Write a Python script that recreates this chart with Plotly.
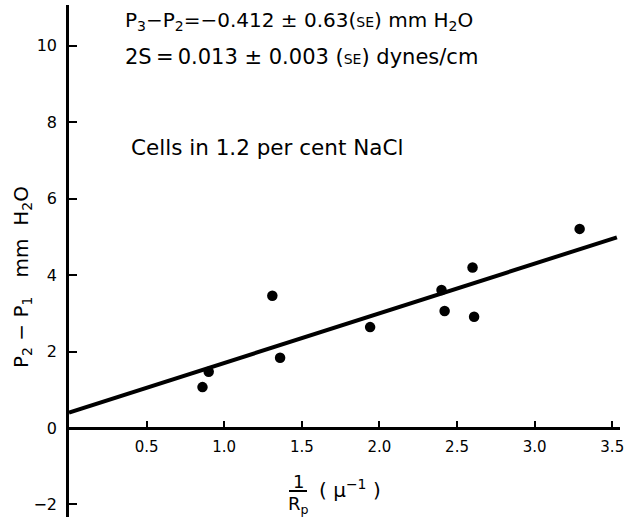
import plotly.graph_objects as go

# data
inv_rp = [0.86, 0.90, 1.31, 1.36, 1.94, 2.40, 2.42, 2.60, 2.61, 3.29]
dp = [1.07, 1.47, 3.46, 1.84, 2.64, 3.61, 3.06, 4.20, 2.91, 5.21]
fit_x = [0.0, 3.53]
fit_y = [0.40, 4.99]
x_ticks = [0.5, 1.0, 1.5, 2.0, 2.5, 3.0, 3.5]
x_tick_text = ["0.5", "1.0", "1.5", "2.0", "2.5", "3.0", "3.5"]
y_ticks = [-2, 0, 2, 4, 6, 8, 10]
y_tick_text = ["−2", "0", "2", "4", "6", "8", "10"]
x_range = [0, 3.55]
y_range = [-2.33, 11.07]

FONT = "DejaVu Sans"
W, H = 629, 524
ML, MR, MT, MB = 69, 9, 5, 7
PW, PH = W - ML - MR, H - MT - MB


def px(x):
    return (x - ML) / PW


def py(y):
    return (H - MB - y) / PH


fig = go.Figure()
fig.add_trace(go.Scatter(x=fit_x, y=fit_y, mode="lines",
                         line=dict(color="black", width=4), showlegend=False))
fig.add_trace(go.Scatter(x=inv_rp, y=dp, mode="markers",
                         marker=dict(color="black", size=10.5), showlegend=False))

xpos = (0 - y_range[0]) / (y_range[1] - y_range[0])

fig.update_layout(
    width=W, height=H,
    margin=dict(l=ML, r=MR, t=MT, b=MB),
    paper_bgcolor="white", plot_bgcolor="white",
    font=dict(family=FONT, color="black"),
    xaxis=dict(range=x_range, tickvals=x_ticks, ticktext=x_tick_text,
               anchor="free", position=xpos, showline=True, linewidth=2.5,
               linecolor="black", ticks="inside", ticklen=6, tickwidth=2,
               tickcolor="black", showgrid=False, zeroline=False,
               tickfont=dict(size=15, family=FONT), ticklabelstandoff=4,
               ticklabeloverflow="allow", automargin=False),
    yaxis=dict(range=y_range, tickvals=y_ticks, ticktext=y_tick_text,
               showline=True, linewidth=2.5, linecolor="black",
               ticks="inside", ticklen=8, tickwidth=2, tickcolor="black",
               showgrid=False, zeroline=False,
               tickfont=dict(size=16, family=FONT), ticklabelstandoff=6,
               automargin=False),
)

se = "<span style='font-size:14px'>SE</span>"
anns = [
    dict(text="P<sub>3</sub>−P<sub>2</sub>=−0.412 ± 0.63(" + se + ") mm H<sub>2</sub>O",
         x=px(123), y=py(21), xanchor="left", size=20),
    dict(text="2S\u2009=\u20090.013 ± 0.003 (" + se + ") dynes/cm",
         x=px(123), y=py(57), xanchor="left", size=21),
    dict(text="Cells in 1.2 per cent NaCl",
         x=px(129), y=py(147), xanchor="left", size=21.5),
    dict(text="1", x=px(298), y=py(481), xanchor="center", size=18),
    dict(text="R<sub>p</sub>", x=px(298), y=py(505), xanchor="center", size=18),
    dict(text="( μ<sup>−1</sup> )", x=px(317), y=py(489), xanchor="left", size=20),
    dict(text="P<sub>2</sub> − P<sub>1</sub>   mm  H<sub>2</sub>O",
         x=px(22), y=py(277), xanchor="center", textangle=-90, size=20),
]
for a in anns:
    s = a.pop("size")
    a.update(xref="paper", yref="paper", showarrow=False, yanchor="middle",
             font=dict(size=s, family=FONT, color="black"))
    fig.add_annotation(**a)

fig.add_shape(type="line", xref="paper", yref="paper",
              x0=px(289), x1=px(307), y0=py(491), y1=py(491),
              line=dict(color="black", width=2))

fig.write_html("out.html",
               config={"displayModeBar": False},
               post_script="document.body.style.margin='0px';"
                           "document.body.style.overflow='hidden';")
